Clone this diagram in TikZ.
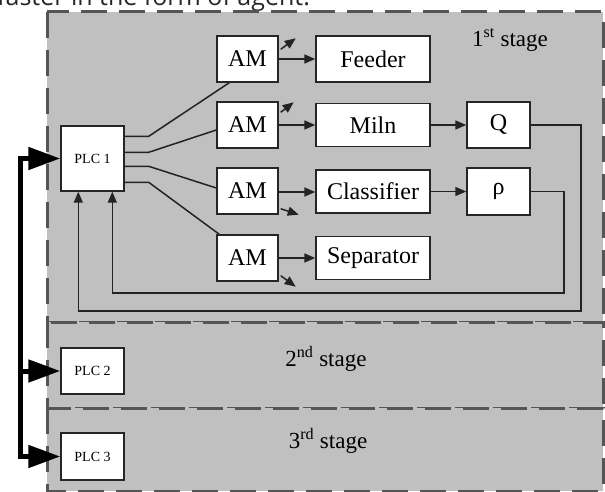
\documentclass[tikz,border=0pt]{standalone}
\usepackage{fontspec}
\setmainfont{Liberation Serif}
\newfontfamily\topfont{Open Sans}
\usetikzlibrary{arrows.meta,calc}
\definecolor{stagegray}{RGB}{192,192,192}
\definecolor{dashgray}{RGB}{85,85,85}
\definecolor{linegray}{RGB}{35,35,35}
\begin{document}
\begin{tikzpicture}[x=1pt,y=-1pt,
  stagebox/.style={fill=stagegray,draw=dashgray,line width=3pt,dash pattern=on 26pt off 12pt},
  blk/.style={draw=black!85,fill=white,line width=1.4pt,inner sep=0pt,font=\fontsize{24}{26}\selectfont},
  plcbox/.style={blk,minimum width=63pt,font=\fontsize{14}{16}\selectfont},
  ambox/.style={blk,minimum width=61pt,minimum height=46pt},
  mbox/.style={blk,minimum width=114pt,minimum height=43pt},
  sbox/.style={blk,minimum width=63pt,minimum height=46pt},
  conn/.style={draw=linegray,line width=1.5pt},
  arr/.style={conn,-{Triangle[length=11pt,width=9pt]}},
  busarr/.style={draw=black,line width=5pt,line join=miter,-{Triangle[length=32pt,width=22pt]}},
  busarr2/.style={draw=black,line width=5pt,line join=miter,{Triangle[length=32pt,width=22pt]}-{Triangle[length=32pt,width=22pt]}},
  lbl/.style={font=\fontsize{23}{26}\selectfont,inner sep=0pt}
]
\useasboundingbox (0,0) rectangle (605,492);
% cropped caption line at the top
\node[anchor=base west,inner sep=0pt,text=black!85,font=\topfont\fontsize{25}{28}\selectfont] (cap) at (-3,6) {faster in the form of agent.};
% stages
\draw[stagebox] (47,12) rectangle (603,322);
\draw[stagebox] (47,322) rectangle (603,408);
\draw[stagebox] (47,408) rectangle (603,491);
\node[lbl] (s1) at (510,40) {1\textsuperscript{st} stage};
\node[lbl] (s2) at (326,359) {2\textsuperscript{nd} stage};
\node[lbl] (s3) at (328,441) {3\textsuperscript{rd} stage};
% PLCs
\node[plcbox,minimum height=65pt] (plc1) at (92.5,158.5) {PLC 1};
\node[plcbox,minimum height=46pt] (plc2) at (92.5,371) {PLC 2};
\node[plcbox,minimum height=47pt] (plc3) at (92.5,456.5) {PLC 3};
% AMs
\node[ambox] (am1) at (247.5,59) {AM};
\node[ambox] (am2) at (247.5,125) {AM};
\node[ambox] (am3) at (247.5,191) {AM};
\node[ambox] (am4) at (247.5,258) {AM};
% machines
\node[mbox,minimum height=46pt] (feeder) at (373,59) {Feeder};
\node[mbox] (miln) at (373,125) {Miln};
\node[mbox] (class) at (373,191.5) {Classifier};
\node[mbox] (sep) at (373,258) {Separator};
\node[sbox] (q) at (498.5,125) {Q};
\node[sbox,minimum height=47pt] (rho) at (498.5,191.5) {ρ};
% bus
\coordinate (bt) at (20,158.5);
\coordinate (bm) at (20,371);
\coordinate (bb) at (20,456.5);
\draw[busarr2] (plc1.west) -- (bt) -- (bb) -- (plc3.west);
\draw[busarr] (bm) -- (plc2.west);
% PLC1 to AMs
\draw[conn] ($(plc1.north east)+(0,11)$) -- ($(plc1.north east)+(24,11)$) -- ($(am1.south west)+(13,0)$);
\draw[conn] ($(plc1.north east)+(0,27)$) -- ($(plc1.north east)+(24,27)$) -- ($(am2.west)+(0,5)$);
\draw[conn] ($(plc1.north east)+(0,41)$) -- ($(plc1.north east)+(24,41)$) -- ($(am3.west)+(0,-3)$);
\draw[conn] ($(plc1.north east)+(0,57)$) -- ($(plc1.north east)+(24,57)$) -- ($(am4.north west)+(3,0)$);
% AM to machines
\draw[arr] (am1.east) -- (feeder.west);
\draw[arr] (am2.east) -- (miln.west);
\draw[arr] ($(am3.east)+(0,1)$) -- ($(class.west)+(0,0.5)$);
\draw[arr] (am4.east) -- (sep.west);
\draw[arr] (miln.east) -- (q.west);
\draw[arr] (class.east) -- (rho.west);
% small outgoing arrows
\draw[arr] ($(am1.north east)+(2,14)$) -- ($(am1.north east)+(17,3)$);
\draw[arr] ($(am2.north east)+(2,11)$) -- ($(am2.north east)+(15,1)$);
\draw[arr] ($(am3.south east)+(2,-6)$) -- ($(am3.south east)+(20,0)$);
\draw[arr] ($(am4.south east)+(2,-6)$) -- ($(am4.south east)+(17,5)$);
% feedback loops
\coordinate (qc) at (581,311);
\coordinate (rc) at (564,293);
\draw[arr] (q.east) -| (qc) -| ($(plc1.south west)+(18,0)$);
\draw[arr] (rho.east) -| (rc) -| ($(plc1.south west)+(52,0)$);
\end{tikzpicture}
\end{document}
